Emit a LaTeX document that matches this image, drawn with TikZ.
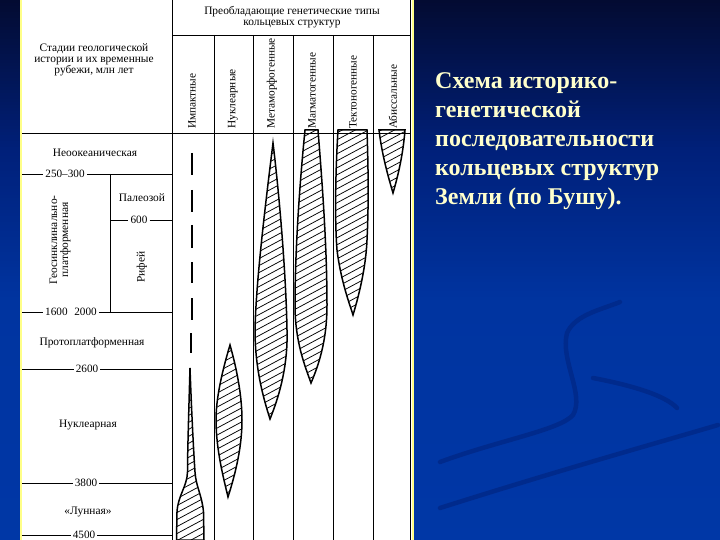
\documentclass[tikz,border=0pt]{standalone}
\usepackage{fontspec}
\setmainfont{Liberation Serif}
\definecolor{bgA}{HTML}{030B32}
\definecolor{bgB}{HTML}{00207A}
\definecolor{bgC}{HTML}{0034A0}
\definecolor{bgD}{HTML}{0037A6}
\definecolor{swoosh}{HTML}{002A8C}
\definecolor{titlecol}{HTML}{FFFFCC}
\definecolor{edgeyellow}{HTML}{FFFF88}
\tikzset{
  grid/.style={line width=0.9pt, black},
  lbl/.style={font=\fontsize{11.4}{13}\selectfont, inner sep=1pt, align=center},
  collbl/.style={font=\fontsize{11.3}{12}\selectfont, rotate=90, anchor=west, inner sep=0pt},
  ticklbl/.style={font=\fontsize{11.2}{12}\selectfont, inner sep=2pt, fill=white},
  lens/.style={line width=1.5pt, black},
  hatchline/.style={line width=0.75pt, black},
  dashmark/.style={line width=2.4pt, black},
  titletext/.style={font=\fontsize{24}{29}\selectfont\bfseries, align=left, anchor=north west, inner sep=0pt}
}
\newcommand{\hatchit}[1]{%
  \begin{scope}
    \clip #1;
    \foreach \k in {0,...,90} {
      \draw[hatchline] (150,{100+7*\k}) -- ++(280,-150);
    }
  \end{scope}
  \draw[lens] #1;
}
\begin{document}
\begin{tikzpicture}[x=1pt,y=-1pt]
\useasboundingbox (0,0) rectangle (720,540);
% background: vertical gradient in strips
\foreach \i in {0,...,49} {
  \pgfmathtruncatemacro\p{\i*2}
  \fill[bgB!\p!bgA] (0,{3*\i}) rectangle (720,{3*\i+3.6});
}
\foreach \i in {0,...,49} {
  \pgfmathtruncatemacro\p{\i*2}
  \fill[bgC!\p!bgB] (0,{150+3*\i}) rectangle (720,{150+3*\i+3.6});
}
\foreach \i in {0,...,39} {
  \pgfmathtruncatemacro\p{\i*2.5}
  \fill[bgD!\p!bgC] (0,{300+6*\i}) rectangle (720,{300+6*\i+6.6});
}
\begin{scope}[swoosh, line width=4.5pt, line cap=round]
  \draw (440,462) .. controls (500,440) and (560,430) .. (573,415) .. controls (585,395) and (560,360) .. (567,333) .. controls (575,315) and (600,310) .. (620,302);
  \draw (440,508) .. controls (560,470) and (650,445) .. (718,425);
  \draw (593,378) .. controls (630,385) and (665,395) .. (677,408);
\end{scope}
% panel
\fill[white] (21,0) rectangle (413,540);
\draw[edgeyellow, line width=2pt] (21,0) -- (21,540);
\draw[edgeyellow, line width=2pt] (413,0) -- (413,540);

% grid
\draw[grid] (172,0) -- (172,540);
\draw[grid] (172,35) -- (411,35);
\draw[grid] (22,133) -- (411,133);
\draw[grid] (410,0) -- (410,540);
\foreach \x in {214,253,293,333,373} {
  \draw[grid] (\x,35) -- (\x,540);
}

% header texts
\node[lbl] (hdr) at (292,17) {Преобладающие генетические типы\\[-2pt]кольцевых структур};
\node[lbl] (stages) at (94,60) {Стадии геологической\\[-2pt]истории и их временные\\[-2pt]рубежи, млн лет};

\node[collbl] (c1) at (192,129) {Импактные};
\node[collbl] (c2) at (233,129) {Нуклеарные};
\node[collbl] (c3) at (272,129) {Метаморфогенные};
\node[collbl] (c4) at (312,129) {Магматогенные};
\node[collbl] (c5) at (353,129) {Тектоногенные};
\node[collbl] (c6) at (393,129) {Абиссальные};

% left column
\node[lbl] (neo) at (95,153) {Неоокеаническая};
\node[ticklbl] (t250) at (65,174) {250–300};
\draw[grid] (22,174) -- (t250.west);
\draw[grid] (t250.east) -- (172,174);
\draw[grid] (110,174) -- (110,312);
\node[lbl] (paleo) at (142,198) {Палеозой};
\node[ticklbl] (t600) at (139,220) {600};
\draw[grid] (110,220) -- (t600.west);
\draw[grid] (t600.east) -- (172,220);
\node[lbl, rotate=90] (rif) at (142,267) {Рифей};
\node[lbl, rotate=90] (geo) at (60,240) {Геосинклинально-\\[-2pt]платформенная};
\node[ticklbl] (t1600) at (71,312) {1600\hspace{0.6em}2000};
\draw[grid] (22,312) -- (t1600.west);
\draw[grid] (t1600.east) -- (172,312);
\node[lbl] (proto) at (92,343) {Протоплатформенная};
\node[ticklbl] (t2600) at (87,369) {2600};
\draw[grid] (22,369) -- (t2600.west);
\draw[grid] (t2600.east) -- (172,369);
\node[lbl] (nucl) at (88,425) {Нуклеарная};
\node[ticklbl] (t3800) at (86,483) {3800};
\draw[grid] (22,483) -- (t3800.west);
\draw[grid] (t3800.east) -- (172,483);
\node[lbl] (luna) at (88,512) {«Лунная»};
\node[ticklbl] (t4500) at (84,535) {4500};
\draw[grid] (22,535) -- (t4500.west);
\draw[grid] (t4500.east) -- (172,535);

% column 1 dashes
\foreach \a/\b in {153/175,190/212,225/248,262/283,298/320} {
  \draw[dashmark] (192,\a) -- (192,\b);
}
\draw[dashmark] (191,333) -- (191,353);

% shapes
\hatchit{(190,368) .. controls (188.5,420) and (187.5,455) .. (187.5,472) .. controls (187,487) and (178,495) .. (177,512) -- (176.5,540) -- (204,540) -- (203.5,512) .. controls (202,495) and (196,487) .. (195,472) .. controls (193.5,450) and (191.5,410) .. (190,368) -- cycle}
\hatchit{(230,345) .. controls (221,375) and (216,400) .. (216,420) .. controls (216,450) and (224,480) .. (228,497) .. controls (236,472) and (242,446) .. (242,420) .. controls (242,394) and (236,366) .. (230,345) -- cycle}
\hatchit{(273,143) .. controls (266,200) and (256,280) .. (255,330) .. controls (255,370) and (264,400) .. (270,419) .. controls (281,392) and (288,362) .. (287,330) .. controls (286,272) and (279,192) .. (273,143) -- cycle}
\hatchit{(305,130) .. controls (299,190) and (295,255) .. (295,305) .. controls (295,342) and (305,366) .. (311,383) .. controls (320,362) and (327,338) .. (327,305) .. controls (327,245) and (322,180) .. (318,130) -- cycle}
\hatchit{(338,130) .. controls (335,180) and (335,225) .. (337,250) .. controls (341,282) and (350,305) .. (353,315) .. controls (360,292) and (366,265) .. (367,240) .. controls (369,200) and (368,160) .. (367,130) -- cycle}
\hatchit{(379,130) .. controls (382,155) and (388,176) .. (393,193) .. controls (398,176) and (403,155) .. (405,130) -- cycle}

% title
\node[titletext, text=titlecol] (title) at (435,72) {Схема историко-\\генетической\\последовательности\\кольцевых структур\\Земли (по Бушу).};
\end{tikzpicture}
\end{document}
